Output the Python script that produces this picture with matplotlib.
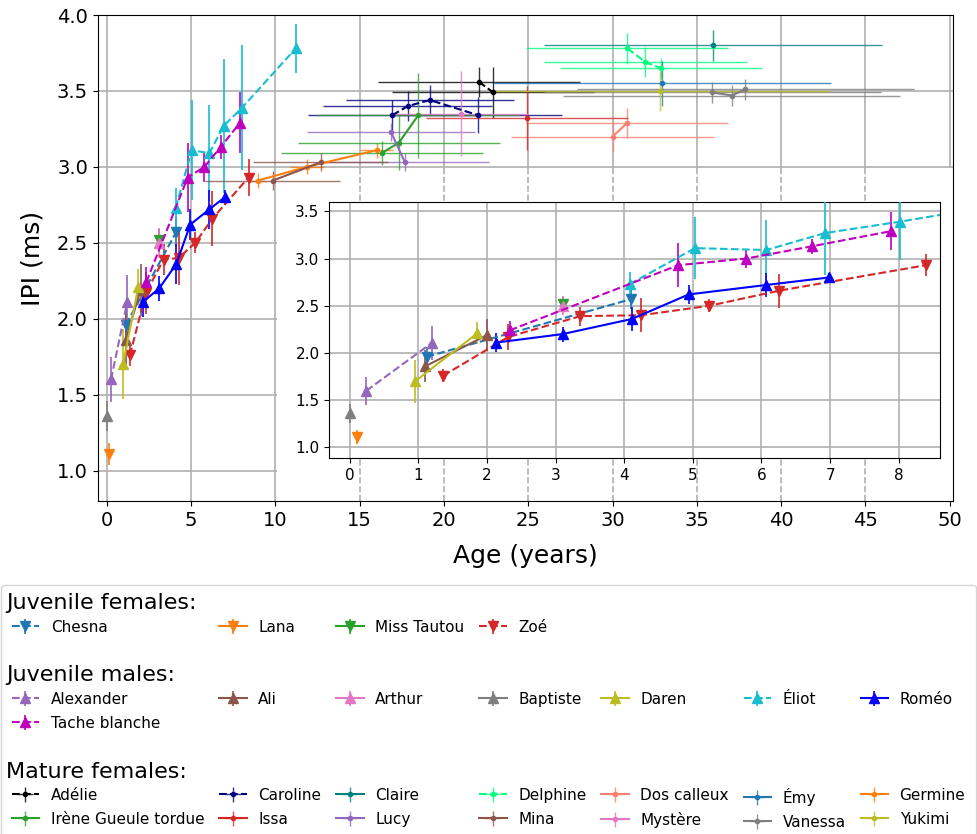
import numpy as np
import matplotlib
matplotlib.use("Agg")
import matplotlib.pyplot as plt
from matplotlib.lines import Line2D
from matplotlib.patches import Rectangle

# ---- data: (age in years, IPI in ms, IPI error) ----
juv_females = {
    'Chesna':      ([1.12, 4.10], [1.96, 2.57], [0.10, 0.10]),
    'Lana':        ([0.10], [1.11], [0.07]),
    'Miss Tautou': ([3.10], [2.52], [0.07]),
    'Zoé':         ([1.36, 2.31, 3.36, 4.25, 5.24, 6.26, 8.40],
                    [1.76, 2.17, 2.39, 2.40, 2.50, 2.66, 2.93],
                    [0.07, 0.14, 0.10, 0.18, 0.07, 0.18, 0.12]),
}

juv_males = {
    'Alexander':     ([0.24, 1.20], [1.60, 2.11], [0.15, 0.18]),
    'Ali':           ([1.10, 2.00], [1.86, 2.19], [0.17, 0.17]),
    'Arthur':        ([3.10], [2.50], [0.10]),
    'Baptiste':      ([0.00], [1.36], [0.10]),
    'Daren':         ([0.95, 1.86], [1.70, 2.21], [0.23, 0.12]),
    'Éliot':         ([4.08, 5.03, 6.07, 6.93, 8.02, 11.2],
                      [2.73, 3.11, 3.09, 3.27, 3.39, 3.78],
                      [0.13, 0.33, 0.32, 0.44, 0.41, 0.16]),
    'Roméo':         ([2.13, 3.10, 4.11, 4.94, 6.07, 6.99],
                      [2.11, 2.20, 2.36, 2.62, 2.72, 2.80],
                      [0.10, 0.08, 0.13, 0.10, 0.13, 0.05]),
    'Tache blanche': ([2.33, 4.79, 5.78, 6.74, 7.89],
                      [2.24, 2.93, 3.00, 3.13, 3.29],
                      [0.10, 0.23, 0.10, 0.08, 0.20]),
}

# mature females: (age, IPI, age error, IPI error)
mat_females = {
    'Adélie':   ([22.07, 22.92], [3.56, 3.49], [6, 6], [0.10, 0.17]),
    'Caroline': ([16.93, 17.84, 19.16, 22.03], [3.34, 3.40, 3.44, 3.34],
                 [5, 5, 5, 5], [0.10, 0.10, 0.10, 0.12]),
    'Claire':   ([35.96], [3.80], [10], [0.10]),
    'Delphine': ([30.88, 31.95, 32.86], [3.78, 3.69, 3.65], [6, 6, 6], [0.10, 0.10, 0.07]),
    'Dos calleux': ([30.00, 30.88], [3.20, 3.29], [6, 6], [0.10, 0.10]),
    'Émy':      ([32.94], [3.55], [10], [0.15]),
    'Germine':  ([8.95, 11.86, 16.00], [2.91, 3.00, 3.11], [0.5, 1.0, 1.0], [0.05, 0.05, 0.05]),
    'Irène Gueule tordue': ([16.30, 17.33, 18.47], [3.09, 3.16, 3.34], [6, 6, 6], [0.08, 0.18, 0.28]),
    'Issa':     ([24.93], [3.32], [6], [0.21]),
    'Lucy':     ([16.85, 17.68], [3.23, 3.03], [5, 5], [0.06, 0.06]),
    'Mina':     ([9.84, 12.68], [2.91, 3.03], [4, 4], [0.06, 0.06]),
    'Mystère':  ([21.00], [3.35], [4], [0.28]),
    'Vanessa':  ([35.92, 37.08, 37.88], [3.49, 3.47, 3.51], [10, 10, 10], [0.07, 0.07, 0.07]),
    'Yukimi':   ([32.84], [3.50], [10], [0.13]),
}

styles = {
    'Chesna': ('tab:blue', '--'), 'Lana': ('tab:orange', '-'),
    'Miss Tautou': ('tab:green', '-'), 'Zoé': ('tab:red', '--'),
    'Alexander': ('tab:purple', '--'), 'Ali': ('tab:brown', '-'),
    'Arthur': ('tab:pink', '-'), 'Baptiste': ('tab:gray', '-'),
    'Daren': ('tab:olive', '-'), 'Éliot': ('tab:cyan', '--'),
    'Roméo': ('blue', '-'), 'Tache blanche': ('m', '--'),
    'Adélie': ('black', '--'), 'Caroline': ('navy', '--'),
    'Claire': ('teal', '-'), 'Delphine': ('springgreen', '--'),
    'Dos calleux': ('salmon', '-'), 'Émy': ('tab:blue', '-'),
    'Germine': ('tab:orange', '-'), 'Irène Gueule tordue': ('tab:green', '-'),
    'Issa': ('tab:red', '-'), 'Lucy': ('tab:purple', '-'),
    'Mina': ('tab:brown', '-'), 'Mystère': ('tab:pink', '-'),
    'Vanessa': ('tab:gray', '-'), 'Yukimi': ('tab:olive', '-'),
}


def plot_juveniles(ax):
    handles = {}
    for group, marker in ((juv_females, 'v'), (juv_males, '^')):
        for name, (x, y, err) in group.items():
            color, ls = styles[name]
            h = ax.errorbar(x, y, yerr=err, color=color, ls=ls, marker=marker,
                            ms=7, lw=1.5, elinewidth=1.2, zorder=3)
            handles[name] = h
    return handles


fig = plt.figure(figsize=(9.77, 8.34), dpi=100)
ax = fig.add_axes([0.100, 0.3993, 0.8754, 0.5827])

handles = plot_juveniles(ax)
for name, (x, y, xerr, yerr) in mat_females.items():
    color, ls = styles[name]
    h = ax.errorbar(x, y, xerr=xerr, yerr=yerr, color=color, ls=ls, marker='.',
                    ms=6, lw=1.5, elinewidth=1.0, zorder=3)
    for bars in h[2]:
        bars.set_alpha(0.8)
    handles[name] = h

ax.set_xlim(-0.55, 50.2)
ax.set_ylim(0.8, 4.0)
ax.set_xticks(np.arange(0, 51, 5))
ax.set_yticks(np.arange(1.0, 4.01, 0.5))
ax.set_axisbelow(True)
ax.grid(True, color='#b0b0b0', lw=1.2)
ax.tick_params(labelsize=14)
ax.set_xlabel('Age (years)', fontsize=18, labelpad=10)
ax.set_ylabel('IPI (ms)', fontsize=18, labelpad=9)

# blank the area behind the inset, keep dashed guides
ax.add_patch(Rectangle((10.08, 0.8), 40.2, 2.19, facecolor='white',
                       edgecolor='none', zorder=1))
for xv in range(15, 50, 5):
    ax.plot([xv, xv], [0.8, 2.99], color='#b0b0b0', lw=1.2, ls='--', zorder=1.1)

# inset
axin = fig.add_axes([0.337, 0.451, 0.625, 0.307])
plot_juveniles(axin)
axin.set_xlim(-0.3, 8.6)
axin.set_ylim(0.89, 3.60)
axin.set_xticks(range(0, 9))
axin.set_yticks(np.arange(1.0, 3.51, 0.5))
axin.set_axisbelow(True)
axin.grid(True, color='#b0b0b0', lw=1.2)
axin.tick_params(labelsize=11)

# legend: 10 rows x 7 columns, row-major grid
blank = Line2D([], [], linestyle='none', marker='')
rows = [
    [None] * 7,
    ['Chesna', 'Lana', 'Miss Tautou', 'Zoé', None, None, None],
    [None] * 7,
    [None] * 7,
    ['Alexander', 'Ali', 'Arthur', 'Baptiste', 'Daren', 'Éliot', 'Roméo'],
    ['Tache blanche'] + [None] * 6,
    [None] * 7,
    [None] * 7,
    ['Adélie', 'Caroline', 'Claire', 'Delphine', 'Dos calleux', 'Émy', 'Germine'],
    ['Irène Gueule tordue', 'Issa', 'Lucy', 'Mina', 'Mystère', 'Vanessa', 'Yukimi'],
]
leg_h, leg_l = [], []
for c in range(7):
    for r in range(len(rows)):
        name = rows[r][c]
        leg_h.append(handles[name] if name else blank)
        leg_l.append(name if name else ' ')

fig.legend(leg_h, leg_l, loc='upper left', bbox_to_anchor=(0.001, 0.0, 0.998, 0.2986),
           mode='expand', ncol=7, fontsize=11, borderaxespad=0, edgecolor='0.8',
           handlelength=1.8, handletextpad=0.75, labelspacing=0.59, borderpad=0.7)

titles = ['Juvenile females:', 'Juvenile males:', 'Mature females:']
title_rows = [0, 3, 7]
row_h = 24.1
for t, r in zip(titles, title_rows):
    yv = 1 - (603 + r * row_h) / 834
    fig.text(0.006, yv, t, fontsize=16, va='center', ha='left', zorder=10)

fig.savefig('out.png', dpi=100)
